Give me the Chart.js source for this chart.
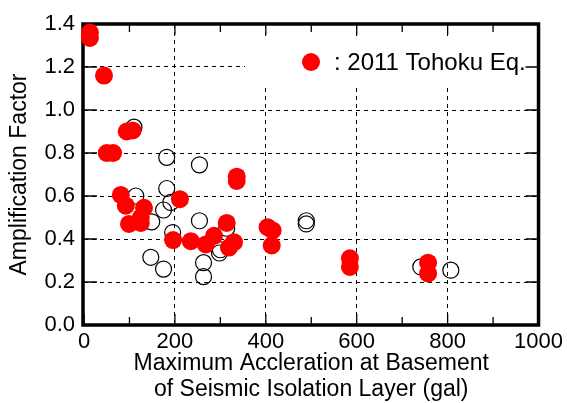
<!DOCTYPE html>
<html>
<head>
<meta charset="utf-8">
<script src="https://cdn.jsdelivr.net/npm/chart.js@4/dist/chart.umd.min.js"></script>
<style>
  html, body { margin: 0; padding: 0; background: #fff; }
  #wrap { width: 567px; height: 403px; }
</style>
</head>
<body>
<div id="wrap"><canvas id="chart" width="567" height="403"></canvas></div>
<script>
// 2011 Tohoku earthquake records (red filled)
const tohokuX = [13, 13, 44, 94, 107, 50, 64, 336, 336, 81, 92, 132, 125, 99, 125, 211,
  196, 235, 268, 286, 314, 330, 319, 404, 415, 413, 585, 585, 757, 757];
const tohokuY = [1.36, 1.335, 1.16, 0.90, 0.905, 0.80, 0.80, 0.69, 0.67, 0.605, 0.555, 0.545, 0.50, 0.47, 0.475, 0.585,
  0.395, 0.39, 0.375, 0.415, 0.475, 0.385, 0.36, 0.455, 0.44, 0.37, 0.31, 0.27, 0.29, 0.24];

// other earthquakes (open circles)
const otherX = [110, 182, 254, 114, 182, 175, 191, 149, 254, 195, 314, 300, 298, 147, 175, 263, 263, 489, 489, 741, 807];
const otherY = [0.92, 0.78, 0.745, 0.60, 0.635, 0.535, 0.57, 0.48, 0.485, 0.43, 0.45, 0.35, 0.335, 0.315, 0.26, 0.29, 0.225, 0.485, 0.47, 0.27, 0.255];

const legendLabel = ': 2011 Tohoku Eq.';
const xTitle = ['Maximum Accleration at Basement', 'of Seismic Isolation Layer (gal)'];
const yTitle = 'Amplification Factor';

const toPoints = (xs, ys) => xs.map((x, i) => ({ x: x, y: ys[i] }));
const font = 'Liberation Sans, Arial, sans-serif';

// frame, inside ticks and the legend box
const framePlugin = {
  id: 'frame',
  beforeDatasetsDraw(chart) {
    const { ctx, chartArea: a, scales } = chart;
    ctx.save();

    // legend box
    ctx.fillStyle = '#fff';
    ctx.fillRect(245, 40, a.right - 247, 46);
    ctx.fillStyle = '#ff0000';
    ctx.beginPath();
    ctx.arc(311, 62, 9, 0, Math.PI * 2);
    ctx.fill();
    ctx.fillStyle = '#000';
    ctx.font = '24px ' + font;
    ctx.textBaseline = 'middle';
    ctx.fillText(legendLabel, 334, 63);

    ctx.strokeStyle = '#000';
    ctx.lineWidth = 1.3;
    ctx.beginPath();
    scales.x.ticks.forEach(t => {
      const px = scales.x.getPixelForValue(t.value);
      const len = t.value % 200 === 0 ? 11 : 8;
      ctx.moveTo(px, a.bottom); ctx.lineTo(px, a.bottom - len);
      ctx.moveTo(px, a.top); ctx.lineTo(px, a.top + len);
    });
    scales.y.ticks.forEach(t => {
      const py = scales.y.getPixelForValue(t.value);
      ctx.moveTo(a.left, py); ctx.lineTo(a.left + 13, py);
      ctx.moveTo(a.right, py); ctx.lineTo(a.right - 13, py);
    });
    ctx.stroke();

    ctx.lineWidth = 3.5;
    ctx.strokeRect(a.left - 1, a.top, a.right - a.left + 1, a.bottom - a.top);
    ctx.restore();
  }
};

new Chart(document.getElementById('chart'), {
  type: 'scatter',
  data: {
    datasets: [
      {
        label: 'Tohoku',
        data: toPoints(tohokuX, tohokuY),
        pointRadius: 9,
        pointHoverRadius: 9,
        pointBackgroundColor: '#ff0000',
        pointBorderWidth: 0,
        clip: false
      },
      {
        label: 'Other',
        data: toPoints(otherX, otherY),
        pointRadius: 8,
        pointHoverRadius: 8,
        pointBackgroundColor: 'rgba(0,0,0,0)',
        pointBorderColor: '#000',
        pointBorderWidth: 1.2,
        clip: false
      }
    ]
  },
  options: {
    responsive: false,
    animation: false,
    devicePixelRatio: 1,
    layout: { padding: { top: 24, right: 28, left: 0, bottom: 0 } },
    plugins: { legend: { display: false }, tooltip: { enabled: false } },
    scales: {
      x: {
        type: 'linear',
        min: 0,
        max: 1000,
        afterFit: s => { s.height = 78; },
        ticks: {
          stepSize: 100,
          autoSkip: false,
          maxRotation: 0,
          padding: 4,
          color: '#000',
          font: { family: font, size: 22 },
          callback: v => (v % 200 === 0 ? v : '')
        },
        grid: {
          drawTicks: false,
          lineWidth: 1,
          color: c => (c.tick && c.tick.value % 200 === 0 && c.tick.value > 0 && c.tick.value < 1000 ? '#000' : 'rgba(0,0,0,0)')
        },
        border: { display: false, dash: [4, 4] },
        title: {
          display: true,
          text: xTitle,
          color: '#000',
          font: { family: font, size: 23, lineHeight: 1.13 },
          padding: { top: 0, bottom: 0 }
        }
      },
      y: {
        min: 0,
        max: 1.4,
        afterFit: s => { s.width = 84; },
        ticks: {
          stepSize: 0.2,
          padding: 9,
          color: '#000',
          font: { family: font, size: 22 },
          callback: v => v.toFixed(1)
        },
        grid: {
          drawTicks: false,
          lineWidth: 1,
          color: c => (c.tick && c.tick.value > 0.01 && c.tick.value < 1.39 ? '#000' : 'rgba(0,0,0,0)')
        },
        border: { display: false, dash: [4, 4] },
        title: {
          display: true,
          text: yTitle,
          color: '#000',
          font: { family: font, size: 23 },
          padding: { top: 6, bottom: 0 }
        }
      }
    }
  },
  plugins: [framePlugin]
});
</script>
</body>
</html>
